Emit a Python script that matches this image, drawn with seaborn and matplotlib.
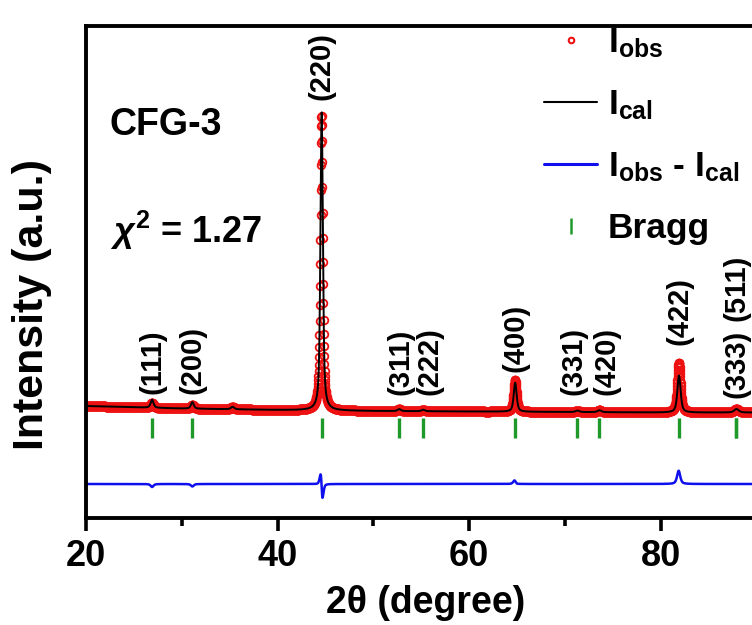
import numpy as np
import pandas as pd
import seaborn as sns
import matplotlib
matplotlib.use("Agg")
import matplotlib.pyplot as plt
from matplotlib.lines import Line2D

hkl = ["(111)", "(200)", "(220)", "(311)", "(222)", "(400)", "(331)", "(420)", "(422)", "(333)", "(511)"]
bragg_pos = [26.9, 31.1, 44.6, 52.7, 55.2, 64.8, 71.3, 73.6, 81.9, 87.9, 87.9]
peak_height = [50, 40, 2950, 20, 15, 320, 15, 20, 500, 20, 15]
peak_fwhm = [0.35, 0.35, 0.30, 0.40, 0.40, 0.36, 0.45, 0.45, 0.40, 0.55, 0.55]
# misfit of the refinement at each reflection (obs - cal): position shift, height difference
obs_shift = [0.0, 0.0, -0.009, 0.0, 0.0, -0.01, 0.0, 0.0, -0.01, 0.0, 0.0]
obs_dheight = [-30, -25, -30, 0, 0, 30, 0, 0, 130, 0, 0]

# small unindexed bump
extra_pos = [35.3]
extra_height = [25]
extra_fwhm = [0.4]

# background of the pattern
bg_x = [20, 30, 40, 50, 60, 70, 80, 92]
bg_y = [1040, 1015, 1000, 990, 985, 980, 975, 975]

# label anchors (centre x, bottom y)
label_x = [26.9, 31.1, 44.6, 52.8, 55.9, 64.8, 70.9, 74.3, 81.9, 87.9, 87.9]
label_y = [1160, 1160, 4100, 1150, 1150, 1380, 1150, 1150, 1650, 1120, 1890]

bragg_y = 820
diff_offset = 260


def pvoigt(x, pos, fwhm, eta=0.6):
    lor = 1.0 / (1.0 + (2 * (x - pos) / fwhm) ** 2)
    gau = np.exp(-4 * np.log(2) * ((x - pos) / fwhm) ** 2)
    return eta * lor + (1 - eta) * gau


tth = np.arange(20.0, 91.0, 0.02)
background = np.interp(tth, bg_x, bg_y)
i_cal = background.copy()
i_obs = background.copy()
for p, h, w, s, dh in zip(bragg_pos, peak_height, peak_fwhm, obs_shift, obs_dheight):
    i_cal += (h - dh) * pvoigt(tth, p, w)
    i_obs += h * pvoigt(tth, p + s, w)
for p, h, w in zip(extra_pos, extra_height, extra_fwhm):
    i_cal += h * pvoigt(tth, p, w)
    i_obs += h * pvoigt(tth, p, w)

df = pd.DataFrame({"tth": tth, "obs": i_obs, "cal": i_cal,
                   "diff": i_obs - i_cal + diff_offset})

sns.set_theme(style="ticks")
plt.rcParams["font.family"] = ["Liberation Sans", "DejaVu Sans"]
plt.rcParams["font.weight"] = "bold"
plt.rcParams["text.color"] = "black"
plt.rcParams["axes.labelcolor"] = "black"
plt.rcParams["xtick.color"] = "black"
plt.rcParams["mathtext.fontset"] = "custom"
plt.rcParams["mathtext.rm"] = "Liberation Sans:bold"
plt.rcParams["mathtext.bf"] = "Liberation Sans:bold"
plt.rcParams["mathtext.it"] = "Liberation Sans:italic"

fig = plt.figure(figsize=(7.52, 6.25), dpi=100)
ax = fig.add_axes([86 / 752, 1 - 518 / 625, 71 * 9.58 / 752, 492 / 625])

sns.lineplot(data=df, x="tth", y="obs", ax=ax, estimator=None, sort=False,
             linestyle="none", marker="o", markersize=5.5, markerfacecolor="none",
             markeredgecolor="#ee1111", markeredgewidth=1.3)
sns.lineplot(data=df, x="tth", y="cal", ax=ax, estimator=None, sort=False,
             color="black", linewidth=1.4)
sns.lineplot(data=df, x="tth", y="diff", ax=ax, estimator=None, sort=False,
             color="#1010ee", linewidth=1.8)
ax.plot(bragg_pos, [bragg_y] * len(bragg_pos), linestyle="none", marker="|",
        markersize=14, markeredgewidth=2.4, color="#1f9a2a")

for lab, x, y in zip(hkl, label_x, label_y):
    ax.text(x, y, lab, rotation=90, ha="center", va="bottom", fontsize=21,
            fontweight="bold")

ax.text(0.035, 0.778, "CFG-3", transform=ax.transAxes, fontsize=27,
        fontweight="bold", va="baseline")
ax.text(0.035, 0.559, r"$\chi^{2}$ = 1.27", transform=ax.transAxes, fontsize=26,
        fontweight="bold", va="baseline")

ax.set_xlim(20, 91)
ax.set_ylim(-80, 4840)
ax.set_xticks([20, 40, 60, 80])
ax.set_xticks([30, 50, 70, 90], minor=True)
ax.set_yticks([])
ax.tick_params(axis="x", which="major", direction="out", length=9, width=2.6,
               labelsize=26, pad=6)
ax.tick_params(axis="x", which="minor", direction="out", length=5.5, width=2.6)
for lab in ax.get_xticklabels():
    lab.set_fontweight("bold")
for sp in ax.spines.values():
    sp.set_linewidth(2.8)
    sp.set_color("black")
ax.set_xlabel("2θ (degree)", fontsize=27, fontweight="bold", labelpad=8)
ax.set_ylabel("Intensity (a.u.)", fontsize=31, fontweight="bold")
ax.yaxis.set_label_coords(-0.05, 0.433)

handles = [
    Line2D([], [], linestyle="none", marker="o", markersize=4, markerfacecolor="none",
           markeredgecolor="#ee1111", markeredgewidth=1.5),
    Line2D([], [], color="black", linewidth=1.5),
    Line2D([], [], color="#1010ee", linewidth=2.2),
    Line2D([], [], linestyle="none", marker="|", markersize=12, markeredgewidth=1.8,
           color="#1f9a2a"),
]
labels = [r"$\mathrm{I}_{\mathrm{obs}}$", r"$\mathrm{I}_{\mathrm{cal}}$",
          r"$\mathrm{I}_{\mathrm{obs}}$ - $\mathrm{I}_{\mathrm{cal}}$", "Bragg"]
fig.legend(handles, labels, loc="upper left", bbox_to_anchor=(544 / 752, 1 - 26 / 625),
           frameon=False, fontsize=25.5, handlelength=1.5, handletextpad=0.3,
           labelspacing=0.8, borderpad=0, borderaxespad=0)

fig.savefig("out.png", dpi=100, facecolor="white")
